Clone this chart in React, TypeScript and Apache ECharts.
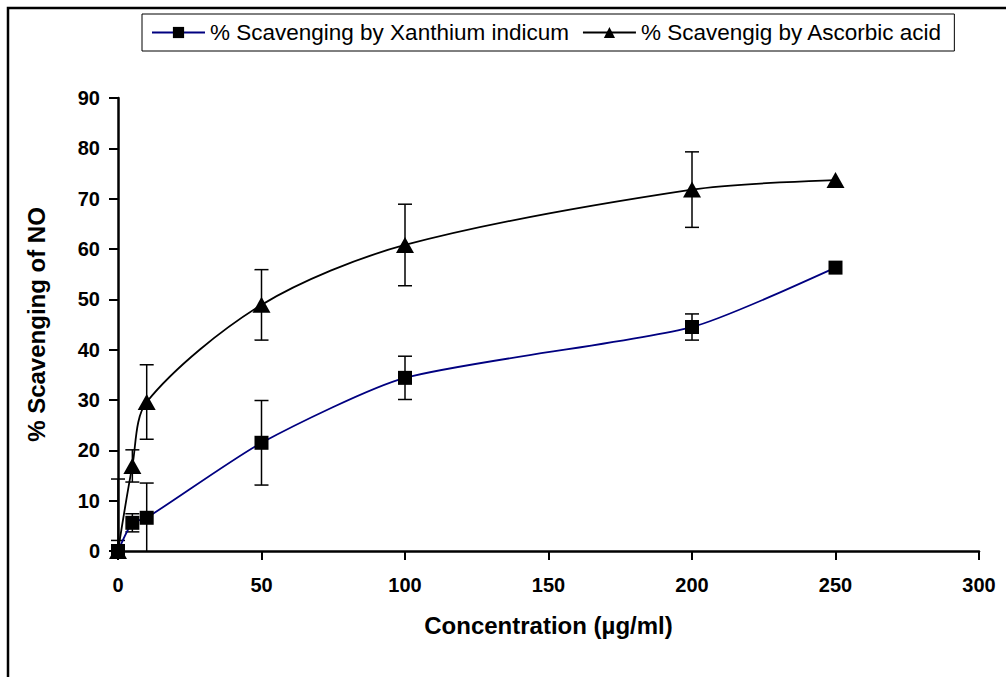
import React, { useEffect, useRef } from "react";
import * as echarts from "echarts";

const concentrations = [0, 5, 10, 50, 100, 200, 250];
const xanthiumValues = [0, 5.6, 6.6, 21.5, 34.4, 44.5, 56.3];
const xanthiumErrors = [2.1, 1.8, 6.9, 8.4, 4.3, 2.6, 0];
const ascorbicValues = [0, 16.9, 29.6, 48.9, 60.8, 71.8, 73.7];
const ascorbicErrors = [14.3, 3.2, 7.4, 7.0, 8.1, 7.5, 0];
const seriesNames = ["% Scavenging by Xanthium indicum", "% Scavengig by Ascorbic acid"];
const xAxisTitle = "Concentration (µg/ml)";
const yAxisTitle = "% Scavenging of NO";

const FONT = "'Liberation Sans', Arial, sans-serif";

function errorRenderer(params: any, api: any) {
  const x = api.value(0);
  const y = api.value(1);
  const e = api.value(2);
  if (!e) return null;
  const hi = y + e;
  const lo = Math.max(y - e, 0);
  const pTop = api.coord([x, hi]);
  const pBot = api.coord([x, lo]);
  const hw = 7;
  const style = { stroke: "#000", lineWidth: 1.5 };
  const children: any[] = [
    { type: "line", shape: { x1: pTop[0], y1: pTop[1], x2: pBot[0], y2: pBot[1] }, style },
    { type: "line", shape: { x1: pTop[0] - hw, y1: pTop[1], x2: pTop[0] + hw, y2: pTop[1] }, style },
  ];
  if (y - e >= 0) {
    children.push({ type: "line", shape: { x1: pBot[0] - hw, y1: pBot[1], x2: pBot[0] + hw, y2: pBot[1] }, style });
  }
  return { type: "group", children };
}

export default function App() {
  const ref = useRef<HTMLDivElement>(null);
  useEffect(() => {
    document.body.style.margin = "0";
    if (!ref.current) return;
    const chart = echarts.init(ref.current, null, { renderer: "svg" });
    const xData = concentrations.map((c, i) => [c, xanthiumValues[i]]);
    const aData = concentrations.map((c, i) => [c, ascorbicValues[i]]);
    const xErr = concentrations.map((c, i) => [c, xanthiumValues[i], xanthiumErrors[i]]);
    const aErr = concentrations.map((c, i) => [c, ascorbicValues[i], ascorbicErrors[i]]);
    chart.setOption({
      animation: false,
      backgroundColor: "#fff",
      graphic: [
        {
          type: "rect",
          shape: { x: 8, y: 8, width: 1200, height: 900 },
          style: { fill: "none", stroke: "#000", lineWidth: 2.5 },
          silent: true,
          z: 100,
        },
      ],
      legend: {
        data: seriesNames,
        left: 142,
        top: 14,
        orient: "horizontal",
        itemWidth: 53,
        itemHeight: 14,
        itemGap: 13,
        padding: [7, 12, 7, 9],
        borderColor: "#000",
        borderWidth: 1,
        textStyle: { fontFamily: FONT, fontSize: 22.5, color: "#000" },
      },
      grid: { left: 118, right: 27, top: 98, bottom: 126, containLabel: false },
      xAxis: {
        type: "value",
        min: 0,
        max: 300,
        interval: 50,
        name: xAxisTitle,
        nameLocation: "middle",
        nameGap: 62,
        nameTextStyle: { fontFamily: FONT, fontSize: 24, fontWeight: "bold", color: "#000" },
        axisLine: { show: true, onZero: false, lineStyle: { color: "#000", width: 2.5 } },
        axisTick: { show: true, length: 9, lineStyle: { color: "#000", width: 2 } },
        axisLabel: { margin: 24, fontFamily: FONT, fontSize: 20, fontWeight: "bold", color: "#000" },
        splitLine: { show: false },
      },
      yAxis: {
        type: "value",
        min: 0,
        max: 90,
        interval: 10,
        name: yAxisTitle,
        nameLocation: "middle",
        nameGap: 70,
        nameTextStyle: { fontFamily: FONT, fontSize: 24, fontWeight: "bold", color: "#000" },
        axisLine: { show: true, lineStyle: { color: "#000", width: 2.5 } },
        axisTick: { show: true, length: 9, lineStyle: { color: "#000", width: 2 } },
        axisLabel: { margin: 18, fontFamily: FONT, fontSize: 20, fontWeight: "bold", color: "#000" },
        splitLine: { show: false },
      },
      series: [
        {
          type: "custom",
          name: "xErr",
          renderItem: errorRenderer,
          data: xErr,
          z: 1,
          silent: true,
          encode: { x: 0, y: 1 },
        },
        {
          type: "custom",
          name: "aErr",
          renderItem: errorRenderer,
          data: aErr,
          z: 1,
          silent: true,
          encode: { x: 0, y: 1 },
        },
        {
          type: "line",
          name: seriesNames[0],
          data: xData,
          smooth: 0.22,
          symbol: "rect",
          symbolSize: 14,
          showAllSymbol: true,
          lineStyle: { color: "#000080", width: 1.8 },
          itemStyle: { color: "#000", borderWidth: 0 },
          z: 3,
        },
        {
          type: "line",
          name: seriesNames[1],
          data: aData,
          smooth: 0.3,
          symbol: "triangle",
          symbolSize: [18, 16],
          showAllSymbol: true,
          lineStyle: { color: "#000", width: 1.8 },
          itemStyle: { color: "#000", borderWidth: 0 },
          z: 3,
        },
      ],
    });
    return () => chart.dispose();
  }, []);
  return <div ref={ref} style={{ width: 1006, height: 677 }} />;
}
